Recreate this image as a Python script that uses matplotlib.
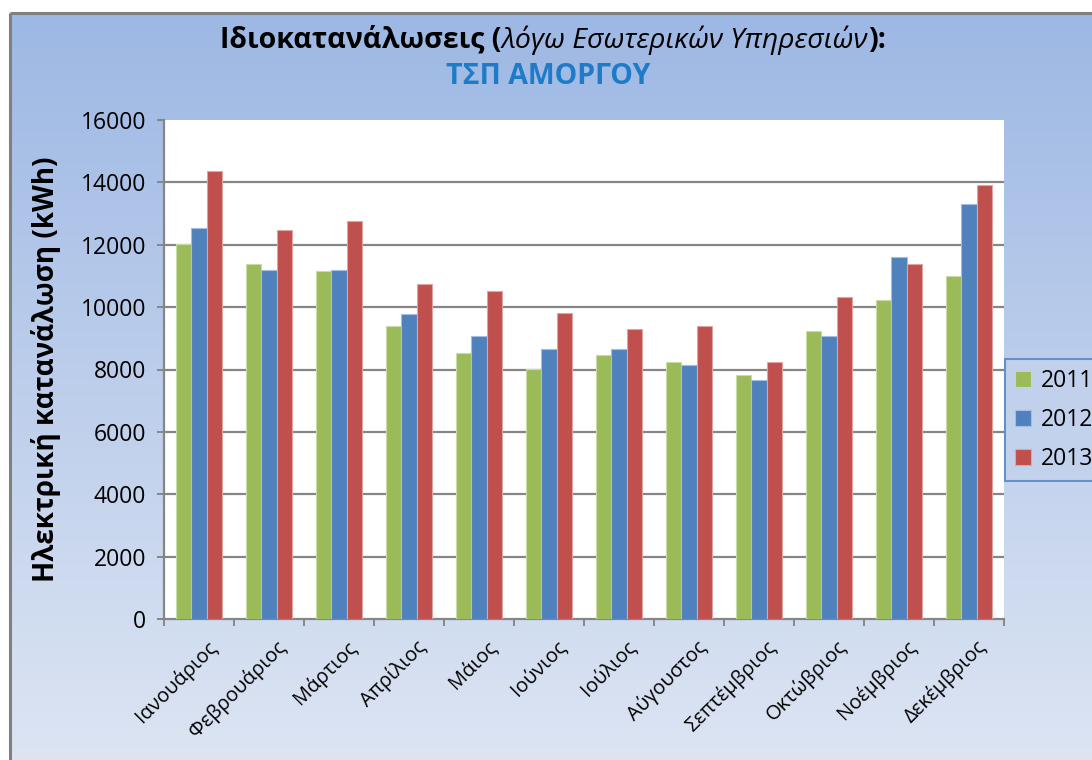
#!/usr/bin/env python3

import numpy as np
import matplotlib
matplotlib.use('Agg')
import matplotlib.pyplot as plt
import matplotlib.transforms as mtransforms
from matplotlib.patches import Rectangle

plt.rcParams['font.family'] = ['Open Sans', 'DejaVu Sans']

months = ['Ιανουάριος', 'Φεβρουάριος', 'Μάρτιος', 'Απρίλιος', 'Μάιος', 'Ιούνιος',
          'Ιούλιος', 'Αύγουστος', 'Σεπτέμβριος', 'Οκτώβριος', 'Νοέμβριος', 'Δεκέμβριος']
years = ['2011', '2012', '2013']
kwh_2011 = [12030, 11380, 11170, 9400, 8520, 8020, 8450, 8250, 7810, 9220, 10220, 11010]
kwh_2012 = [12540, 11200, 11200, 9790, 9060, 8670, 8660, 8130, 7670, 9080, 11620, 13310]
kwh_2013 = [14380, 12460, 12760, 10740, 10530, 9800, 9300, 9390, 8240, 10320, 11390, 13900]
colors = ['#9BBB59', '#4F81BD', '#C0504D']
edges = ['#C9DCA6', '#A3BEE0', '#E0A5A3']

W, H = 1092, 760
fig = plt.figure(figsize=(W / 100, H / 100), dpi=100)
fig.patch.set_facecolor('white')

# chart area background: vertical gradient with grey border
bg = fig.add_axes([0, 0, 1, 1], zorder=-5)
bg.set_xlim(0, W)
bg.set_ylim(H, 0)
bg.axis('off')
grad = np.linspace(0, 1, 256).reshape(-1, 1)
cmap = matplotlib.colors.LinearSegmentedColormap.from_list('bg', ['#9DB8E4', '#DDE5F3'])
bg.imshow(grad, cmap=cmap, aspect='auto', extent=[10, W + 5, H + 5, 13])
bg.add_patch(Rectangle((10, 13), W, H, fill=False, edgecolor='#808080', linewidth=2.2))

# plot area
left, right, top, bottom = 164, 1004, 120, 619
ax = fig.add_axes([left / W, 1 - bottom / H, (right - left) / W, (bottom - top) / H])
ax.set_facecolor('white')

x = np.arange(len(months))
bw = 0.222
for i, (vals, c, ec) in enumerate(zip([kwh_2011, kwh_2012, kwh_2013], colors, edges)):
    ax.bar(x + (i - 1) * bw, vals, width=bw, color=c, edgecolor=ec, linewidth=0.8,
           label=years[i], zorder=3)

ax.set_xlim(-0.5, len(months) - 0.5)
ax.set_ylim(0, 16000)
ax.set_yticks(np.arange(0, 16001, 2000))
for yv in range(2000, 16000, 2000):
    ax.axhline(yv, color='#868686', linewidth=1.6, zorder=1)

for s in ['top', 'right']:
    ax.spines[s].set_visible(False)
for s in ['left', 'bottom']:
    ax.spines[s].set_color('#868686')
    ax.spines[s].set_linewidth(1.6)

ax.tick_params(axis='y', direction='out', length=5, width=1.4, color='#868686',
               labelsize=16.5, pad=8)
ax.set_xticks(x)
ax.set_xticks(np.arange(-0.5, len(months), 1), minor=True)
ax.tick_params(axis='x', which='major', length=0, pad=4)
ax.tick_params(axis='x', which='minor', direction='out', length=5, width=1.4, color='#868686')
ax.set_xticklabels(months, rotation=45, ha='right', rotation_mode='anchor', fontsize=14.5)
offset = mtransforms.ScaledTranslation(7 / 100, -12 / 100, fig.dpi_scale_trans)
for lab in ax.get_xticklabels():
    lab.set_transform(lab.get_transform() + offset)

ax.set_ylabel('Ηλεκτρική κατανάλωση (kWh)', fontsize=20, fontweight='bold', labelpad=14)

# title (mixed bold / italic), pieces laid out side by side
renderer = fig.canvas.get_renderer()
parts = [('Ιδιοκατανάλωσεις (', 'bold', 'normal'),
         ('λόγω Εσωτερικών Υπηρεσιών', 'normal', 'italic'),
         ('):', 'bold', 'normal')]
texts = []
total = 0
for s, w, st in parts:
    t = fig.text(0, 1 - 40 / H, s, fontsize=20.5, fontweight=w, fontstyle=st, va='center')
    bb = t.get_window_extent(renderer)
    texts.append((t, bb.width))
    total += bb.width
xpos = 553 - total / 2
for t, wdt in texts:
    t.set_x(xpos / W)
    xpos += wdt
fig.text(548 / W, 1 - 76 / H, 'ΤΣΠ ΑΜΟΡΓΟΥ', fontsize=20.5, fontweight='bold',
         color='#1F7BC8', ha='center', va='center')

leg = fig.legend(loc='upper left', bbox_to_anchor=(1005 / W, 1 - 359 / H), fontsize=16.5,
                 frameon=True, fancybox=False, handlelength=0.7, handleheight=0.7,
                 handletextpad=0.4, labelspacing=0.65, borderpad=0.45, borderaxespad=0)
leg.get_frame().set_facecolor('#C3D2EC')
leg.get_frame().set_edgecolor('#4F81BD')
leg.get_frame().set_linewidth(1.5)

fig.savefig('out.png', dpi=100)
